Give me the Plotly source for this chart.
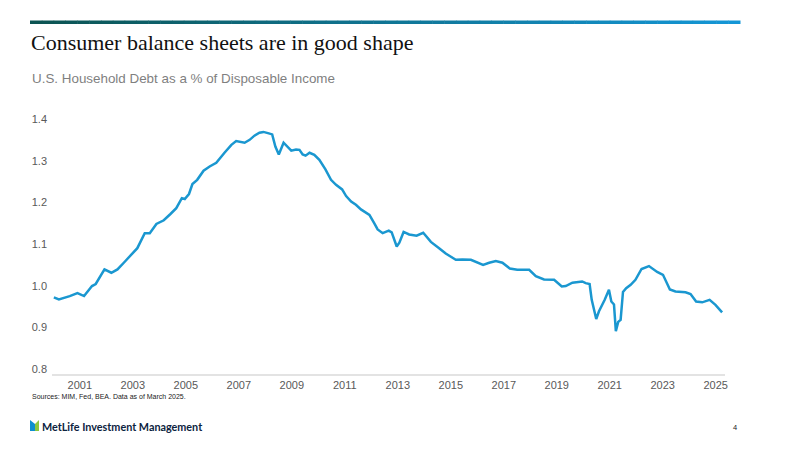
#!/usr/bin/env python3
"""Household debt to disposable income, MetLife style slide."""

import plotly.graph_objects as go

# Decimal year of each reading and the debt / disposable income ratio
YEARS = [
    2000.02, 2000.21, 2000.62, 2000.91, 2001.16, 2001.46, 2001.60, 2001.73, 2001.93,
    2002.19, 2002.42, 2002.66, 2002.92, 2003.17, 2003.45, 2003.64, 2003.89, 2004.17,
    2004.42, 2004.64, 2004.85, 2004.96, 2005.12, 2005.25, 2005.43, 2005.67, 2005.90,
    2006.15, 2006.46, 2006.72, 2006.90, 2007.22, 2007.41, 2007.59, 2007.78, 2007.93,
    2008.10, 2008.26, 2008.38, 2008.51, 2008.69, 2008.81, 2008.98, 2009.16, 2009.29,
    2009.41, 2009.52, 2009.67, 2009.85, 2010.04, 2010.27, 2010.48, 2010.67, 2010.90,
    2011.05, 2011.24, 2011.42, 2011.61, 2011.80, 2011.93, 2012.11, 2012.24, 2012.43,
    2012.66, 2012.77, 2012.96, 2013.06, 2013.22, 2013.43, 2013.71, 2013.96, 2014.25,
    2014.56, 2014.81, 2015.19, 2015.44, 2015.76, 2016.01, 2016.22, 2016.45, 2016.70,
    2016.95, 2017.23, 2017.51, 2017.96, 2018.21, 2018.52, 2018.90, 2019.19, 2019.34,
    2019.59, 2019.96, 2020.09, 2020.24, 2020.32, 2020.49, 2020.59, 2020.81, 2020.97,
    2021.06, 2021.16, 2021.23, 2021.32, 2021.41, 2021.50, 2021.62, 2021.79, 2021.97,
    2022.20, 2022.48, 2022.79, 2023.01, 2023.27, 2023.48, 2023.86, 2024.05, 2024.26,
    2024.49, 2024.77, 2024.99, 2025.24,
]
DEBT_RATIO = [
    0.972, 0.967, 0.975, 0.982, 0.975, 0.999, 1.004, 1.019, 1.039,
    1.031, 1.039, 1.055, 1.074, 1.090, 1.126, 1.126, 1.148, 1.157,
    1.172, 1.186, 1.210, 1.208, 1.220, 1.244, 1.254, 1.276, 1.286,
    1.295, 1.319, 1.338, 1.347, 1.343, 1.350, 1.360, 1.367, 1.369,
    1.366, 1.363, 1.334, 1.315, 1.343, 1.334, 1.324, 1.327, 1.326,
    1.315, 1.312, 1.319, 1.314, 1.302, 1.279, 1.254, 1.242, 1.231,
    1.215, 1.202, 1.194, 1.183, 1.174, 1.170, 1.150, 1.135, 1.126,
    1.132, 1.128, 1.094, 1.103, 1.129, 1.123, 1.120, 1.127, 1.105,
    1.090, 1.077, 1.062, 1.063, 1.062, 1.056, 1.050, 1.055, 1.059,
    1.055, 1.041, 1.038, 1.038, 1.023, 1.015, 1.014, 0.998, 0.999,
    1.007, 1.010, 1.006, 1.004, 0.966, 0.920, 0.938, 0.966, 0.990,
    0.962, 0.955, 0.891, 0.913, 0.918, 0.985, 0.994, 1.002, 1.014,
    1.040, 1.047, 1.033, 1.026, 0.991, 0.986, 0.984, 0.980, 0.962,
    0.960, 0.966, 0.954, 0.936,
]

X_TICKS = list(range(2001, 2026, 2))
Y_TICKS = [0.8, 0.9, 1.0, 1.1, 1.2, 1.3, 1.4]

TITLE = "Consumer balance sheets are in good shape"
SUBTITLE = "U.S. Household Debt as a % of Disposable Income"
SOURCE = "Sources: MIM, Fed, BEA. Data as of March 2025."

W, H = 800, 450
OFF = 8  # the page body margin pushes the figure 8px right and down
ML, MR, MT, MB = 52 - OFF, 75 + OFF, 119 - OFF, 76 + OFF
PW, PH = W - ML - MR, H - MT - MB


# paper coords are relative to the plot area, so map page pixels onto it
def px_x(x):
    return (x - OFF - ML) / PW


def px_y(y):
    return (H - MB - (y - OFF)) / PH


def gradient_bar(x0, x1, y0, y1, c0, c1, steps=60):
    """Header rule fading from dark teal to blue."""
    shapes = []
    for i in range(steps):
        t = i / (steps - 1)
        r, g, b = (round(a + (bb - a) * t) for a, bb in zip(c0, c1))
        xa = x0 + (x1 - x0) * i / steps
        xb = x0 + (x1 - x0) * (i + 1) / steps + 0.5
        shapes.append(dict(type="rect", xref="paper", yref="paper",
                           x0=px_x(xa), x1=px_x(xb), y0=px_y(y1), y1=px_y(y0),
                           fillcolor=f"rgb({r},{g},{b})", line=dict(width=0), layer="above"))
    return shapes


fig = go.Figure()
fig.add_trace(go.Scatter(x=YEARS, y=DEBT_RATIO, mode="lines",
                         line=dict(color="#1a97d0", width=2.5, shape="linear"),
                         hoverinfo="x+y", showlegend=False))

shapes = gradient_bar(30, 740, 20.5, 24, (12, 84, 82), (20, 150, 214))
# logo: blue and green tiles
shapes.append(dict(type="path", xref="paper", yref="paper",
                   path=f"M {px_x(30)},{px_y(420)} L {px_x(35)},{px_y(424)} L {px_x(35)},{px_y(431)} L {px_x(30)},{px_y(431)} Z",
                   fillcolor="#0d8fd0", line=dict(width=0)))
shapes.append(dict(type="path", xref="paper", yref="paper",
                   path=f"M {px_x(35)},{px_y(424)} L {px_x(39)},{px_y(420)} L {px_x(39)},{px_y(431)} L {px_x(35)},{px_y(431)} Z",
                   fillcolor="#8cc63f", line=dict(width=0)))

annotations = [
    dict(text=TITLE, x=px_x(29), y=px_y(43), xanchor="left", yanchor="middle",
         font=dict(family="Liberation Serif, DejaVu Serif, serif", size=22, color="#111111")),
    dict(text=SUBTITLE, x=px_x(30), y=px_y(79), xanchor="left", yanchor="middle",
         font=dict(family="Liberation Sans, Arial, sans-serif", size=13.4, color="#7f7f7f")),
    dict(text=SOURCE, x=px_x(30), y=px_y(396), xanchor="left", yanchor="middle",
         font=dict(family="Liberation Sans, Arial, sans-serif", size=7, color="#222222")),
    dict(text="<b>MetLife Investment Management</b>", x=px_x(40), y=px_y(426), xanchor="left",
         yanchor="middle", font=dict(family="Lato, Open Sans, sans-serif", size=10.8, color="#0c2340")),
    dict(text="4", x=px_x(739), y=px_y(427), xanchor="right", yanchor="middle",
         font=dict(family="Liberation Sans, Arial, sans-serif", size=7.5, color="#222222")),
]
for a in annotations:
    a.update(xref="paper", yref="paper", showarrow=False)

fig.update_layout(
    width=W, height=H,
    margin=dict(l=ML, r=MR, t=MT, b=MB),
    paper_bgcolor="white", plot_bgcolor="white",
    font=dict(family="Liberation Sans, Arial, sans-serif", size=11, color="#595959"),
    shapes=shapes, annotations=annotations,
    xaxis=dict(range=[1999.95, 2025.35], tickvals=X_TICKS, ticktext=[str(t) for t in X_TICKS],
               showgrid=False, zeroline=False, showline=True, linecolor="#e3e3e3", linewidth=2,
               ticks="", automargin=False, tickfont=dict(size=11, color="#595959")),
    yaxis=dict(range=[0.788, 1.4], tickvals=Y_TICKS, ticktext=[f"{v:.1f}" for v in Y_TICKS],
               showgrid=False, zeroline=False, showline=False, ticks="", ticklabelstandoff=4,
               automargin=False, tickfont=dict(size=11, color="#595959")),
)

fig.write_html("out.html")
